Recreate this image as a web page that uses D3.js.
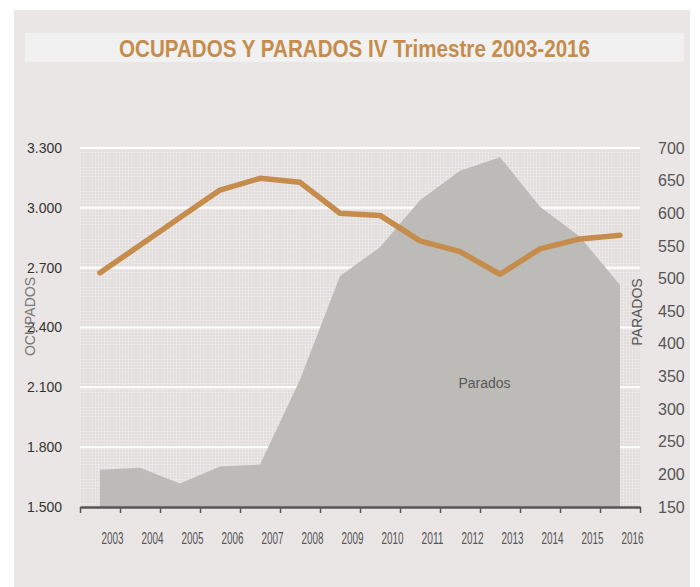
<!DOCTYPE html>
<html>
<head>
<meta charset="utf-8">
<script src="https://cdn.jsdelivr.net/npm/d3@7"></script>
<style>
  html, body { margin: 0; padding: 0; background: #ffffff; }
  svg { display: block; }
</style>
</head>
<body>
<svg id="chart" width="700" height="587"></svg>
<script>
// ---- data ----
const years = ["2003","2004","2005","2006","2007","2008","2009","2010","2011","2012","2013","2014","2015","2016"];
const ocupados = [2675, 2812, 2952, 3089, 3148, 3128, 2973, 2962, 2834, 2780, 2667, 2794, 2844, 2862];
const parados = [207, 210, 186, 212, 215, 345, 504, 548, 620, 665, 686, 610, 564, 490];
const leftTicks = [1500, 1800, 2100, 2400, 2700, 3000, 3300];
const rightTicks = [150, 200, 250, 300, 350, 400, 450, 500, 550, 600, 650, 700];
const titleText = "OCUPADOS Y PARADOS IV Trimestre 2003-2016";

const svg = d3.select("#chart");
const narrow = "'Liberation Sans Narrow', 'Arial Narrow', 'Liberation Sans', Arial, sans-serif";
const sans = "'Liberation Sans', Arial, Helvetica, sans-serif";

const L = 80, R = 640, T = 148, B = 507;

// background
svg.append("rect").attr("x", 14).attr("y", 10).attr("width", 676).attr("height", 577).attr("fill", "#ebe6e6");
svg.append("rect").attr("x", 25).attr("y", 33).attr("width", 659).attr("height", 29).attr("fill", "#f1f1f1");
svg.append("text")
  .attr("x", 354.5).attr("y", 56.7)
  .attr("text-anchor", "middle")
  .attr("font-family", narrow).attr("font-weight", "bold").attr("font-size", 24)
  .attr("fill", "#c58c4c")
  .attr("textLength", 471).attr("lengthAdjust", "spacingAndGlyphs")
  .text(titleText);

// dotted plot background
const defs = svg.append("defs");
const pat = defs.append("pattern").attr("id", "dots").attr("patternUnits", "userSpaceOnUse")
  .attr("width", 3).attr("height", 3);
pat.append("rect").attr("width", 3).attr("height", 3).attr("fill", "#ebe7e6");
pat.append("rect").attr("width", 2).attr("height", 2).attr("fill", "#e1dddc");
svg.append("rect").attr("x", L).attr("y", T).attr("width", R - L).attr("height", B - T).attr("fill", "url(#dots)");

// scales
const x = d3.scalePoint().domain(years).range([L, R]).padding(0.5);
const xb = d3.scaleLinear().domain([0, years.length]).range([L, R]);
const yL = d3.scaleLinear().domain([1500, 3300]).range([B, T]);
const yR = d3.scaleLinear().domain([150, 700]).range([B, T]);

// gridlines
svg.append("g").selectAll("line").data(leftTicks.slice(1)).join("line")
  .attr("x1", L).attr("x2", R)
  .attr("y1", d => yL(d)).attr("y2", d => yL(d))
  .attr("stroke", "#ffffff").attr("stroke-width", 2);

// area (parados)
const area = d3.area()
  .x((d, i) => x(years[i]))
  .y0(yR(150))
  .y1(d => yR(d));
svg.append("path").datum(parados).attr("d", area).attr("fill", "#bcbbb7");

svg.append("text").attr("x", 484.5).attr("y", 388)
  .attr("text-anchor", "middle").attr("font-family", sans).attr("font-size", 14)
  .attr("fill", "#585858").text("Parados");

// line (ocupados)
const line = d3.line()
  .x((d, i) => x(years[i]))
  .y(d => yL(d));
svg.append("path").datum(ocupados).attr("d", line)
  .attr("fill", "none").attr("stroke", "#c58c4b").attr("stroke-width", 5.5)
  .attr("stroke-linecap", "round").attr("stroke-linejoin", "round");

// left axis
const es = d3.formatLocale({decimal: ",", thousands: ".", grouping: [3], currency: ["", "€"]});
const gL = svg.append("g").attr("transform", `translate(${L},0)`)
  .call(d3.axisLeft(yL).tickValues(leftTicks).tickFormat(es.format(",")).tickSize(0).tickPadding(18));
gL.select(".domain").remove();
gL.selectAll("text").attr("font-family", sans).attr("font-size", 14).attr("fill", "#333333");

// right axis
const gR = svg.append("g").attr("transform", `translate(${R},0)`)
  .call(d3.axisRight(yR).tickValues(rightTicks).tickFormat(d3.format("d")).tickSize(0).tickPadding(18));
gR.select(".domain").remove();
gR.selectAll("text").attr("font-family", narrow).attr("font-size", 16).attr("fill", "#555555");

// bottom axis: ticks at band boundaries
const gB = svg.append("g").attr("transform", `translate(0,${B})`)
  .call(d3.axisBottom(xb).tickValues(d3.range(0, years.length + 1)).tickFormat("").tickSize(6).tickSizeOuter(0));
gB.select(".domain").attr("stroke", "#555555").attr("stroke-width", 2.7);
gB.selectAll(".tick line").attr("stroke", "#555555").attr("stroke-width", 1.5);

// year labels
const gY = svg.append("g").attr("transform", `translate(0,${B})`)
  .call(d3.axisBottom(x).tickSize(0).tickPadding(26));
gY.select(".domain").remove();
gY.selectAll("text")
  .attr("dx", 12)
  .attr("font-family", narrow).attr("font-size", 16).attr("fill", "#555555")
  .attr("text-anchor", "middle")
  .attr("textLength", 22).attr("lengthAdjust", "spacingAndGlyphs");

// axis titles
svg.append("text").attr("transform", "translate(35,316.5) rotate(-90)")
  .attr("text-anchor", "middle").attr("font-family", narrow).attr("font-size", 14)
  .attr("fill", "#777777").text("OCUPADOS");
svg.append("text").attr("transform", "translate(642,312) rotate(-90)")
  .attr("text-anchor", "middle").attr("font-family", narrow).attr("font-size", 14)
  .attr("fill", "#555555").text("PARADOS");
</script>
</body>
</html>
